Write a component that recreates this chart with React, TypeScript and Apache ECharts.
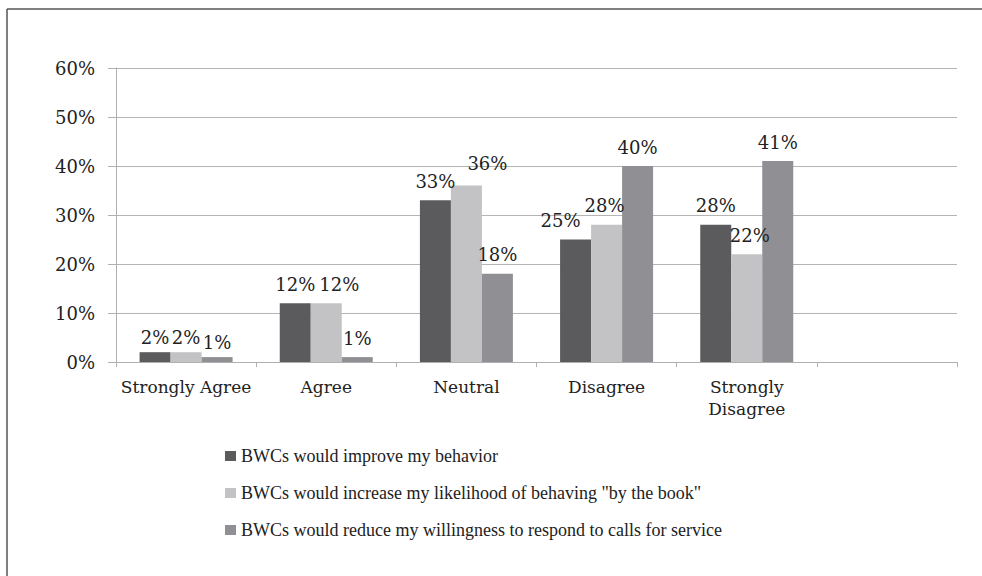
import React, { useEffect, useRef } from "react";
import * as echarts from "echarts";

// Response categories (the sixth slot is intentionally empty)
const categories = ["Strongly Agree", "Agree", "Neutral", "Disagree", "Strongly\nDisagree", ""];

const seriesNames = [
  "BWCs would improve my behavior",
  'BWCs would increase my likelihood of behaving "by the book"',
  "BWCs would reduce my willingness to respond to calls for service",
];

// Percent of respondents
const improveBehavior = [2, 12, 33, 25, 28, null];
const byTheBook = [2, 12, 36, 28, 22, null];
const reduceWillingness = [1, 1, 18, 40, 41, null];

const yTicks = [0, 10, 20, 30, 40, 50, 60];

const barColors = ["#5b5b5d", "#c3c3c5", "#909094"];

const NUM_FONT = "'DejaVu Serif', serif";
const LEGEND_FONT = "'Liberation Serif', 'Times New Roman', serif";

// Small nudges so neighbouring value labels don't collide: [series][category] -> [dx, dy]
const labelNudges: Record<string, [number, number]> = {
  "0-0": [0, 4],
  "1-0": [0, 4],
  "2-0": [0, 4],
  "1-1": [13, 0],
  "1-2": [21, -3],
  "0-3": [-15, 0],
  "1-3": [-2, 0],
  "1-4": [3, 0],
};

export default function App() {
  const ref = useRef<HTMLDivElement>(null);

  useEffect(() => {
    if (!ref.current) return;
    const chart = echarts.init(ref.current, undefined, { renderer: "svg" });
    const values = [improveBehavior, byTheBook, reduceWillingness];

    chart.setOption({
      animation: false,
      backgroundColor: "#ffffff",
      grid: { left: 116, right: 25, top: 68, bottom: 214 },
      legend: {
        orient: "vertical",
        left: 220,
        top: 442,
        itemWidth: 11,
        itemHeight: 10,
        itemGap: 19,
        icon: "rect",
        textStyle: { fontFamily: LEGEND_FONT, fontSize: 18, color: "#222" },
        data: seriesNames,
      },
      xAxis: {
        type: "category",
        data: categories,
        axisLine: { lineStyle: { color: "#b0b0b0", width: 1 } },
        axisTick: { show: true, length: 5, lineStyle: { color: "#b0b0b0" } },
        axisLabel: {
          interval: 0,
          margin: 14,
          fontFamily: NUM_FONT,
          fontSize: 17,
          lineHeight: 22,
          color: "#222",
        },
        splitLine: { show: false },
      },
      yAxis: {
        type: "value",
        min: yTicks[0],
        max: yTicks[yTicks.length - 1],
        interval: 10,
        axisLine: { show: true, lineStyle: { color: "#b0b0b0", width: 1 } },
        axisTick: { show: true, length: 8, lineStyle: { color: "#b0b0b0" } },
        axisLabel: {
          margin: 21,
          fontFamily: NUM_FONT,
          fontSize: 18,
          color: "#222",
          formatter: (v: number) => `${v}%`,
        },
        splitLine: { lineStyle: { color: "#b4b4b4", width: 1 } },
      },
      series: seriesNames.map((name, i) => ({
        name,
        type: "bar",
        data: values[i].map((v, j) => {
          const nudge = labelNudges[`${i}-${j}`];
          return nudge ? { value: v, label: { offset: nudge } } : v;
        }),
        barWidth: 31,
        barGap: "0%",
        itemStyle: { color: barColors[i] },
        label: {
          show: true,
          position: "top",
          distance: 10,
          fontFamily: NUM_FONT,
          fontSize: 18,
          color: "#222",
          formatter: (p: any) => `${p.value}%`,
        },
      })),
      graphic: [
        {
          type: "line",
          shape: { x1: 7, y1: 9, x2: 7, y2: 576 },
          style: { stroke: "#555", lineWidth: 1.5 },
        },
        {
          type: "line",
          shape: { x1: 7, y1: 9, x2: 982, y2: 9 },
          style: { stroke: "#555", lineWidth: 1.5 },
        },
      ],
    });

    return () => chart.dispose();
  }, []);

  return (
    <div
      ref={ref}
      style={{ position: "fixed", left: 0, top: 0, width: 982, height: 576 }}
    />
  );
}
